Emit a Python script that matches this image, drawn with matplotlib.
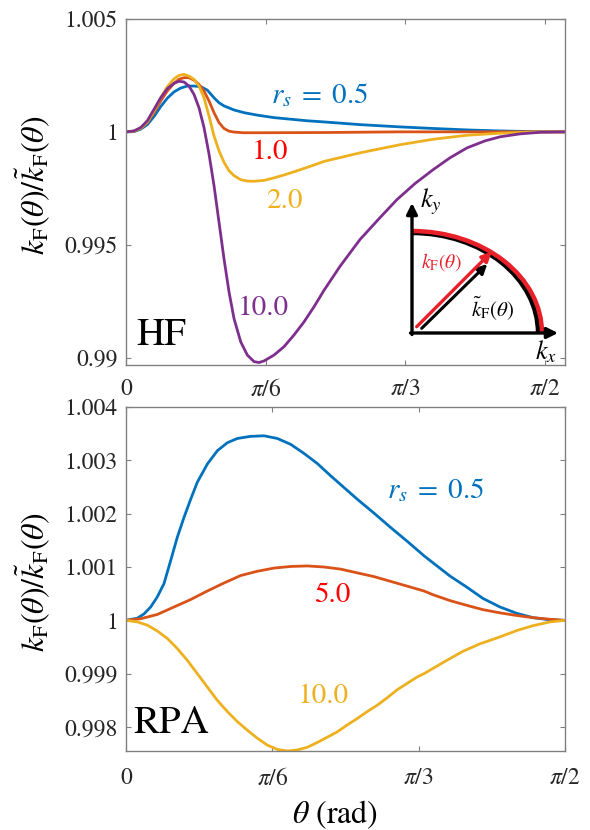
import numpy as np
import matplotlib
matplotlib.use("Agg")
import matplotlib.pyplot as plt
from matplotlib.patches import Arc

plt.rcParams['font.family'] = ['STIXGeneral', 'DejaVu Serif']
plt.rcParams['mathtext.fontset'] = 'stix'

# MATLAB default colours
c_blue = '#0072BD'
c_orange = '#D95319'
c_yellow = '#EDB120'
c_purple = '#7E2F8E'
c_axis = '#808080'

# ---------------- HF data (theta in rad) ----------------
hf_x_05 = [0, 0.0300, 0.0551, 0.0798, 0.1050, 0.1301, 0.1548, 0.1799, 0.2050, 0.2298,
           0.2549, 0.2800, 0.3047, 0.3299, 0.3486, 0.3673, 0.4048, 0.4423, 0.4922, 0.5548,
           0.6173, 0.6796, 0.7422, 0.8771, 1.0270, 1.1507, 1.2894, 1.4019, 1.5256, 1.6455]
hf_y_05 = [1.0, 1.00001, 1.00012, 1.00032, 1.00068, 1.00112, 1.00149, 1.00177, 1.00194, 1.00203,
           1.00203, 1.002, 1.00185, 1.00151, 1.00129, 1.00115, 1.00097, 1.00085, 1.00074, 1.00063,
           1.00056, 1.00049, 1.00044, 1.00032, 1.00022, 1.00015, 1.00008, 1.00004, 1.00001, 1.0]

hf_x_10 = [0, 0.0300, 0.0551, 0.0798, 0.1050, 0.1301, 0.1548, 0.1799, 0.1987, 0.2174,
           0.2361, 0.2549, 0.2736, 0.2924, 0.3111, 0.3299, 0.3486, 0.3673, 0.3861, 0.4048,
           0.4423, 0.4922, 0.7422, 1.0270, 1.6455]
hf_y_10 = [1.0, 1.00003, 1.00016, 1.00041, 1.00085, 1.00137, 1.00181, 1.00215, 1.00233, 1.0024,
           1.0024, 1.00229, 1.0021, 1.00181, 1.00137, 1.00085, 1.00041, 1.00015, 1.00003, 0.99999,
           0.99996, 0.99996, 0.99997, 1.0, 1.0]

hf_x_20 = [0, 0.0300, 0.0551, 0.0798, 0.1050, 0.1301, 0.1548, 0.1799, 0.1987, 0.2174,
           0.2361, 0.2549, 0.2736, 0.2924, 0.3111, 0.3299, 0.3486, 0.3673, 0.3861, 0.4048,
           0.4299, 0.4547, 0.4798, 0.5173, 0.5548, 0.5922, 0.6297, 0.6672, 0.7047, 0.7422,
           0.8771, 1.0270, 1.1507, 1.2782, 1.4019, 1.5256, 1.6455]
hf_y_20 = [1.0, 1.00003, 1.00016, 1.00044, 1.00093, 1.00151, 1.002, 1.00235, 1.0025, 1.00255,
           1.00247, 1.00232, 1.00203, 1.00151, 1.00071, 0.99982, 0.99916, 0.99865, 0.99828, 0.99806,
           0.99788, 0.99782, 0.99781, 0.99785, 0.99796, 0.99809, 0.99823, 0.99838, 0.99853, 0.99869,
           0.99907, 0.99943, 0.99967, 0.99985, 0.99994, 0.99999, 1.0]

hf_x_100 = [0, 0.0300, 0.0551, 0.0798, 0.1050, 0.1301, 0.1548, 0.1799, 0.1987, 0.2174,
            0.2361, 0.2549, 0.2736, 0.2924, 0.3111, 0.3299, 0.3486, 0.3673, 0.3861, 0.4048,
            0.4299, 0.4547, 0.4798, 0.4985, 0.5173, 0.5548, 0.5922, 0.6297, 0.6672, 0.7047,
            0.7422, 0.8021, 0.8771, 0.9521, 1.0158, 1.0833, 1.1507, 1.2144, 1.2782, 1.3456,
            1.4019, 1.4768, 1.5518, 1.6455]
hf_y_100 = [1.0, 1.00004, 1.00019, 1.00049, 1.001, 1.00151, 1.00191, 1.00215, 1.00224, 1.00221,
            1.00203, 1.00166, 1.00107, 1.00019, 0.99902, 0.99762, 0.996, 0.99438, 0.99291, 0.99173,
            0.9907, 0.99011, 0.98982, 0.98978, 0.98985, 0.99011, 0.99048, 0.991, 0.99158, 0.99225,
            0.99298, 0.99404, 0.99523, 0.9962, 0.997, 0.99771, 0.99832, 0.99885, 0.99929, 0.9996,
            0.99978, 0.99991, 0.99998, 1.0]

# ---------------- RPA data (theta in rad) ----------------
rpa_x_05 = [0, 0.0405, 0.0644, 0.0883, 0.1121, 0.1360, 0.1598, 0.1837, 0.2075, 0.2314,
            0.2552, 0.2910, 0.3268, 0.3626, 0.3984, 0.4461, 0.4938, 0.5415, 0.5892, 0.6369,
            0.6846, 0.7323, 0.7800, 0.8277, 0.8874, 0.9471, 1.0067, 1.0663, 1.1593, 1.2201,
            1.2774, 1.3382, 1.3990, 1.4563, 1.5171, 1.5708]
rpa_y_05 = [1.0, 1.00004, 1.00012, 1.00025, 1.00044, 1.00069, 1.00112, 1.00156, 1.00193, 1.00227,
            1.00259, 1.00293, 1.00318, 1.00333, 1.00341, 1.00345, 1.00346, 1.00341, 1.0033, 1.00313,
            1.00294, 1.00271, 1.00249, 1.00227, 1.00201, 1.00174, 1.00148, 1.00121, 1.00083, 1.00062,
            1.00041, 1.00025, 1.00013, 1.00005, 1.00001, 1.0]

rpa_x_50 = [0, 0.0525, 0.1121, 0.1717, 0.2314, 0.2910, 0.3507, 0.4103, 0.4699, 0.5296,
            0.5892, 0.6488, 0.7085, 0.7681, 0.8277, 0.8874, 0.9471, 1.0067, 1.0663, 1.0985,
            1.1593, 1.2201, 1.2774, 1.3382, 1.3990, 1.4563, 1.5171, 1.5708]
rpa_y_50 = [1.0, 1.00003, 1.00011, 1.00025, 1.00039, 1.00055, 1.0007, 1.00084, 1.00092, 1.00098,
            1.00101, 1.00102, 1.001, 1.00096, 1.00089, 1.00082, 1.00073, 1.00064, 1.00055, 1.00048,
            1.00037, 1.00028, 1.0002, 1.00014, 1.00009, 1.00005, 1.00002, 1.0]

rpa_x_100 = [0, 0.0405, 0.0763, 0.1121, 0.1479, 0.1837, 0.2195, 0.2552, 0.2910, 0.3268,
             0.3626, 0.3984, 0.4342, 0.4699, 0.5057, 0.5415, 0.5773, 0.6131, 0.6488, 0.6846,
             0.7204, 0.7562, 0.7920, 0.8277, 0.8635, 0.8993, 0.9351, 0.9709, 1.0067, 1.0424,
             1.0663, 1.1414, 1.2058, 1.2667, 1.3382, 1.3990, 1.4563, 1.5171, 1.5708]
rpa_y_100 = [1.0, 0.99997, 0.99991, 0.9998, 0.99966, 0.99947, 0.99925, 0.999, 0.99875, 0.9985,
             0.99829, 0.9981, 0.99794, 0.99779, 0.99766, 0.99758, 0.99755, 0.99757, 0.99762, 0.99771,
             0.99781, 0.99791, 0.99804, 0.99816, 0.99829, 0.99841, 0.99855, 0.9987, 0.99882, 0.99894,
             0.999, 0.99923, 0.99942, 0.99956, 0.99969, 0.99981, 0.9999, 0.99997, 1.0]

xtick_pos = [0, np.pi / 6, np.pi / 3, np.pi / 2]
xtick_lab = ['0', r'$\pi$/6', r'$\pi$/3', r'$\pi$/2']
hf_yticks = [0.99, 0.995, 1.0, 1.005]
hf_ylab = ['0.99', '0.995', '1', '1.005']
rpa_yticks = [0.998, 0.999, 1.0, 1.001, 1.002, 1.003, 1.004]
rpa_ylab = ['0.998', '0.999', '1', '1.001', '1.002', '1.003', '1.004']

W, H = 590, 830
fig = plt.figure(figsize=(W / 100, H / 100), dpi=100)


def px_axes(l, t, r, b):
    return fig.add_axes([l / W, 1 - b / H, (r - l) / W, (b - t) / H])


def style(ax, pad_x):
    for s in ax.spines.values():
        s.set_color(c_axis)
        s.set_linewidth(1.0)
    ax.tick_params(direction='in', length=3.6, width=0.8, color=c_axis,
                   top=True, right=True, labelsize=17, labelcolor='#262626')
    ax.tick_params(axis='x', pad=pad_x)
    ax.tick_params(axis='y', pad=6)


ylabel = r'$k_{\mathrm{F}}(\theta)/\tilde{k}_{\mathrm{F}}(\theta)$'
rs_text = r'$r_s\;=\;0.5$'
lw = 2.0

# ---------------- top: HF ----------------
ax1 = px_axes(126, 19, 565, 365)
ax1.plot(hf_x_05, hf_y_05, color=c_blue, lw=lw)
ax1.plot(hf_x_10, hf_y_10, color=c_orange, lw=lw)
ax1.plot(hf_x_20, hf_y_20, color=c_yellow, lw=lw)
ax1.plot(hf_x_100, hf_y_100, color=c_purple, lw=lw)
ax1.set_xlim(0, 1.6455)
ax1.set_ylim(0.98967, 1.005)
ax1.set_xticks(xtick_pos, xtick_lab)
ax1.set_yticks(hf_yticks, hf_ylab)
style(ax1, 10)
ax1.text(-0.21, 0.52, ylabel, transform=ax1.transAxes, rotation=90,
         ha='center', va='center', fontsize=23)

t1 = ax1.transAxes
def fx(x): return (x - 126) / 439
def fy1(y): return (365 - y) / 346
ax1.text(fx(320), fy1(95), rs_text, transform=t1, color=c_blue,
         fontsize=21, ha='center', va='center')
ax1.text(fx(270), fy1(152), '1.0', transform=t1, color='#FF0000',
         fontsize=21, ha='center', va='center')
ax1.text(fx(284), fy1(201), '2.0', transform=t1, color=c_yellow,
         fontsize=21, ha='center', va='center')
ax1.text(fx(263), fy1(308), '10.0', transform=t1, color=c_purple,
         fontsize=21, ha='center', va='center')
ax1.text(fx(161), fy1(336), 'HF', transform=t1, color='black',
         fontsize=28, ha='center', va='center')

# ---------------- bottom: RPA ----------------
ax2 = px_axes(126, 407, 565, 751)
ax2.plot(rpa_x_05, rpa_y_05, color=c_blue, lw=lw)
ax2.plot(rpa_x_50, rpa_y_50, color=c_orange, lw=lw)
ax2.plot(rpa_x_100, rpa_y_100, color=c_yellow, lw=lw)
ax2.set_xlim(0, np.pi / 2)
ax2.set_ylim(0.99755, 1.004)
ax2.set_xticks(xtick_pos, xtick_lab)
ax2.set_yticks(rpa_yticks, rpa_ylab)
style(ax2, 12)
ax2.text(-0.2096, 0.49, ylabel, transform=ax2.transAxes, rotation=90,
         ha='center', va='center', fontsize=23)
ax2.text(0.476, -0.186, r'$\theta$ (rad)', transform=ax2.transAxes,
         ha='center', va='center', fontsize=23)

t2 = ax2.transAxes
def fy2(y): return (751 - y) / 344
ax2.text(fx(436), fy2(490), rs_text, transform=t2, color=c_blue,
         fontsize=21, ha='center', va='center')
ax2.text(fx(332), fy2(595), '5.0', transform=t2, color='#FF0000',
         fontsize=21, ha='center', va='center')
ax2.text(fx(323), fy2(696), '10.0', transform=t2, color=c_yellow,
         fontsize=21, ha='center', va='center')
ax2.text(fx(171), fy2(724), 'RPA', transform=t2, color='black',
         fontsize=28, ha='center', va='center')

# ---------------- inset schematic ----------------
axi = px_axes(405, 195, 565, 365)
axi.set_xlim(0, 160)
axi.set_ylim(0, 170)
axi.axis('off')
axi.patch.set_alpha(0)

ox, oy = 7, 32
axi.add_patch(Arc((ox, oy), 2 * 126, 2 * 100, theta1=0, theta2=90,
                  color='black', lw=3.2, zorder=2))
axi.add_patch(Arc((ox, oy), 2 * 130, 2 * 102, theta1=0, theta2=90,
                  color='#E8202A', lw=3.2, zorder=3))
ap = dict(arrowstyle='-|>', mutation_scale=16, lw=2.4, color='black',
          shrinkA=0, shrinkB=0)
axi.annotate('', xy=(ox, 162), xytext=(ox, oy - 1.5), arrowprops=ap, zorder=4)
axi.annotate('', xy=(153, oy), xytext=(ox - 1.5, oy), arrowprops=ap, zorder=4)
axi.annotate('', xy=(82.3, 101), xytext=(16.7, 36.7),
             arrowprops=dict(ap, lw=2.2, mutation_scale=14), zorder=4)
axi.annotate('', xy=(86.7, 113.3), xytext=(11.7, 38.3),
             arrowprops=dict(ap, lw=2.4, mutation_scale=14, color='#E8202A'), zorder=5)
axi.text(26, 163, r'$k_y$', fontsize=19, ha='center', va='center')
axi.text(141, 13, r'$k_x$', fontsize=19, ha='center', va='center')
axi.text(36, 103, r'$k_{\mathrm{F}}(\theta)$', fontsize=14, color='#E8202A',
         ha='center', va='center')
axi.text(88, 57, r'$\tilde{k}_{\mathrm{F}}(\theta)$', fontsize=15, color='black',
         ha='center', va='center')

fig.savefig('out.png', dpi=100)
